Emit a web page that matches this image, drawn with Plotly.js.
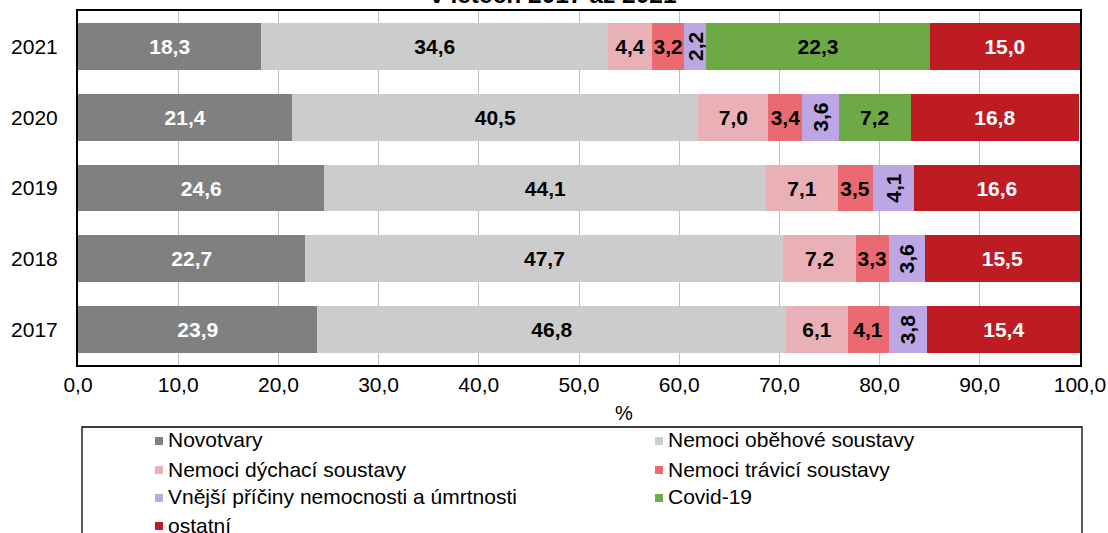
<!DOCTYPE html>
<html>
<head>
<meta charset="utf-8">
<script src="https://cdn.plot.ly/plotly-3.0.1.min.js"></script>
<style>html,body{margin:0;padding:0;background:#fff;}#chart{width:1108px;height:533px;}</style>
</head>
<body>
<div id="chart"></div>
<script>
const years = ['2017', '2018', '2019', '2020', '2021'];
const seriesNames = ['Novotvary', 'Nemoci oběhové soustavy', 'Nemoci dýchací soustavy', 'Nemoci trávicí soustavy', 'Vnější příčiny nemocnosti a úmrtnosti', 'Covid-19', 'ostatní'];
const novotvary = [23.9, 22.7, 24.6, 21.4, 18.3];
const obehove = [46.8, 47.7, 44.1, 40.5, 34.6];
const dychaci = [6.1, 7.2, 7.1, 7.0, 4.4];
const travici = [4.1, 3.3, 3.5, 3.4, 3.2];
const vnejsi = [3.8, 3.6, 4.1, 3.6, 2.2];
const covid = [null, null, null, 7.2, 22.3];
const ostatni = [15.4, 15.5, 16.6, 16.8, 15.0];
const xTicks = [0, 10, 20, 30, 40, 50, 60, 70, 80, 90, 100];
const titleText = 'v letech 2017 až 2021';
const axisTitle = '%';

const seriesValues = [novotvary, obehove, dychaci, travici, vnejsi, covid, ostatni];
const colors = ['#808080', '#CCCCCC', '#E9B1B5', '#EB6A72', '#BCA7E4', '#6DAA46', '#BE1B23'];
const textColors = ['#FFFFFF', '#000000', '#000000', '#000000', '#000000', '#000000', '#FFFFFF'];
const angles = [0, 0, 0, 0, -90, 0, 0];
const FONT = 'Liberation Sans, Arial, sans-serif';

const traces = seriesNames.map((name, i) => ({
  type: 'bar',
  orientation: 'h',
  name: name,
  y: years,
  x: seriesValues[i],
  marker: {color: colors[i], line: {width: 0}},
  texttemplate: '%{x:.1f}',
  textposition: 'inside',
  insidetextanchor: 'middle',
  textangle: angles[i],
  constraintext: 'none',
  textfont: {family: FONT, size: 21, color: textColors[i], weight: 'bold'},
  hoverinfo: 'x+name',
  showlegend: false
}));

// plot geometry (pixels) used for placing paper-referenced decorations
const L = 78, R = 28, T = 11, B = 168, W = 1108, H = 533;
const pw = W - L - R, ph = H - T - B;
const px = x => (x - L) / pw;
const py = y => (H - B - y) / ph;

const annotations = [
  {text: '<b>' + titleText + '</b>', xref: 'paper', yref: 'paper', x: px(553), y: py(10), xanchor: 'center', yanchor: 'bottom', showarrow: false, font: {family: FONT, size: 24.5, color: '#000'}},
  {text: axisTitle, xref: 'paper', yref: 'paper', x: px(624), y: py(413), xanchor: 'center', yanchor: 'middle', showarrow: false, font: {family: FONT, size: 20, color: '#000'}}
];
const shapes = [
  {type: 'rect', xref: 'paper', yref: 'paper', x0: px(82), x1: px(1082), y0: py(427), y1: py(600), line: {color: '#000', width: 1.3}, fillcolor: 'rgba(0,0,0,0)'}
];
const colX = [167, 667];
const rowY = [440, 469, 497, 525];
seriesNames.forEach((name, i) => {
  const cx = colX[i % 2], cy = rowY[Math.floor(i / 2)];
  shapes.push({type: 'rect', xref: 'paper', yref: 'paper', x0: px(cx - 12), x1: px(cx - 4), y0: py(cy + 5), y1: py(cy - 3), line: {width: 0}, fillcolor: colors[i]});
  annotations.push({text: name, xref: 'paper', yref: 'paper', x: px(cx - 1), y: py(cy), xanchor: 'left', yanchor: 'middle', showarrow: false, font: {family: FONT, size: 21, color: '#000'}});
});

const layout = {
  width: W, height: H,
  margin: {l: L, r: R, t: T, b: B, pad: 0},
  paper_bgcolor: '#fff', plot_bgcolor: '#fff',
  barmode: 'stack',
  bargap: 0.34,
  separators: ', ',
  showlegend: false,
  font: {family: FONT, size: 21, color: '#000'},
  xaxis: {
    range: [0, 100], tickvals: xTicks, tickformat: '.1f',
    showgrid: true, gridcolor: '#BFBFBF', gridwidth: 1,
    zeroline: false, showline: true, linecolor: '#000', linewidth: 2, mirror: true,
    ticks: '', ticklabelstandoff: 0,
    tickfont: {family: FONT, size: 21, color: '#000'}, fixedrange: true
  },
  yaxis: {
    type: 'category', categoryorder: 'array', categoryarray: years,
    showgrid: false, zeroline: false, showline: true, linecolor: '#000', linewidth: 2, mirror: true,
    ticks: '', ticklabelstandoff: 14,
    tickfont: {family: FONT, size: 21, color: '#000'}, fixedrange: true
  },
  annotations: annotations,
  shapes: shapes
};

Plotly.newPlot('chart', traces, layout, {displayModeBar: false, staticPlot: true});
</script>
</body>
</html>
